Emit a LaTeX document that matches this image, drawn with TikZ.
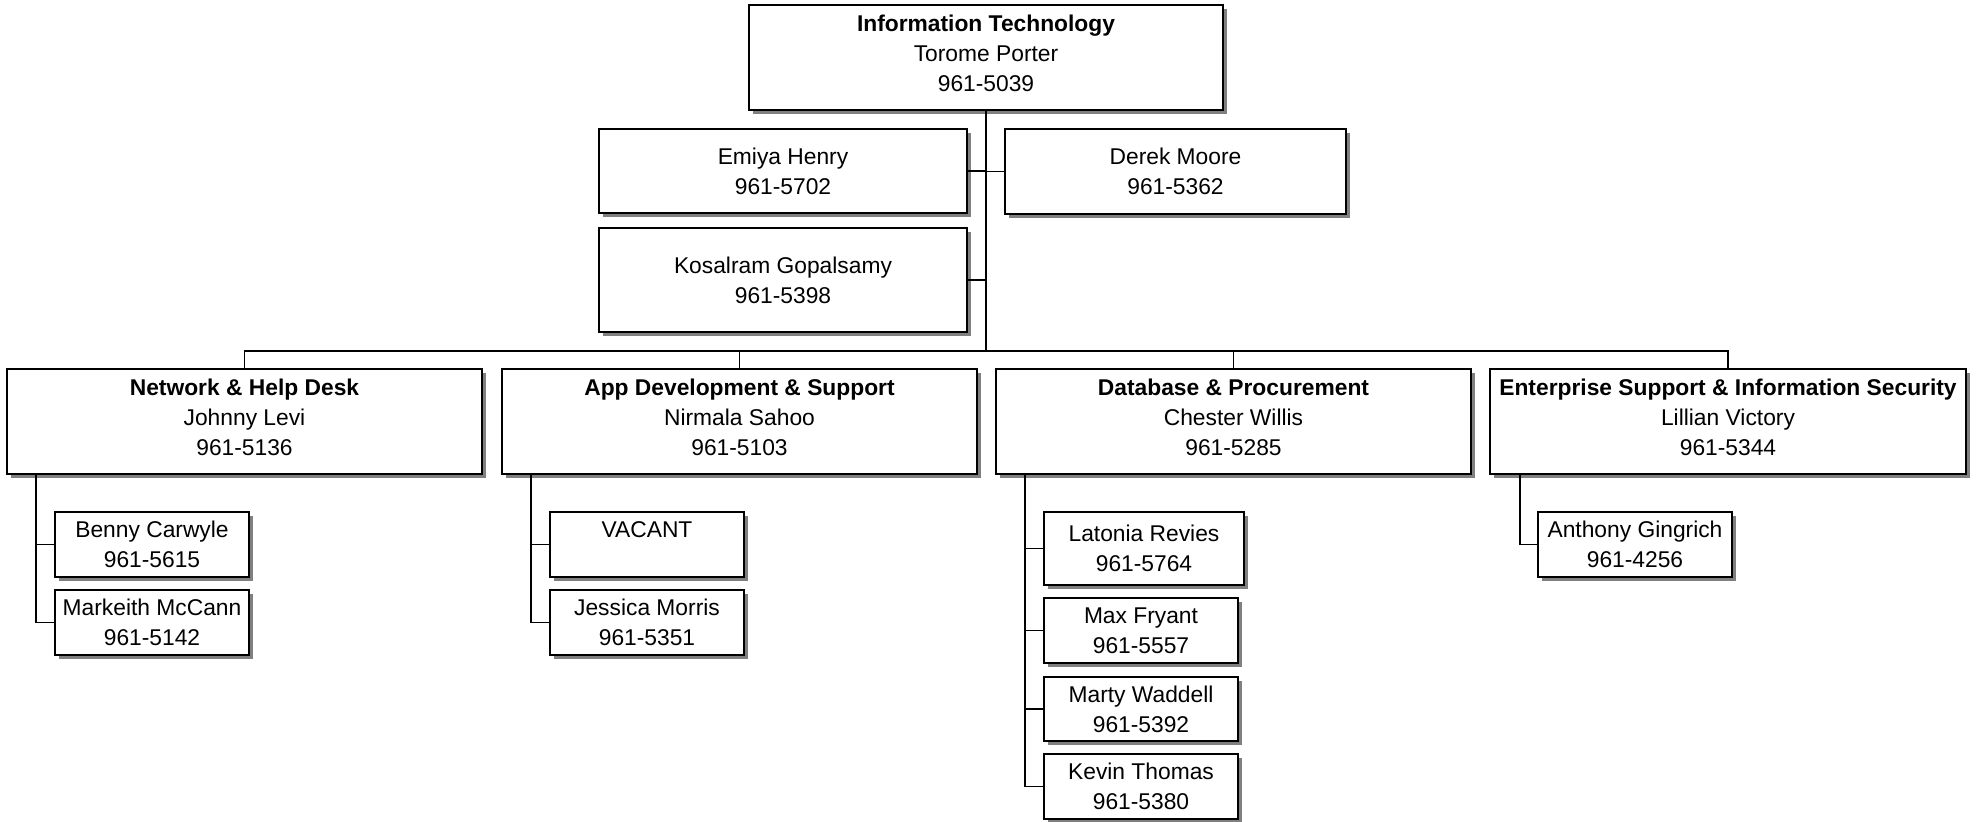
\documentclass[tikz,border=0pt]{standalone}
\usepackage{fontspec}
\setmainfont{Liberation Sans}
\usetikzlibrary{shadows}
\begin{document}
\begin{tikzpicture}[x=0.5pt,y=-0.5pt,
  box/.style={draw=black, line width=0.8pt, fill=white, inner sep=0pt, align=center, anchor=center,
    font=\fontsize{11.4pt}{15pt}\selectfont,
    drop shadow={shadow xshift=2pt, shadow yshift=-2pt, fill=shadowgray, opacity=1}},
  conn/.style={draw=black, line width=0.65pt}]
\definecolor{shadowgray}{HTML}{808080}
\newcommand{\lowpad}{\rule[-4.5pt]{0pt}{4.5pt}}
\newcommand{\orgbox}[6]{\node[box, minimum width={(#4-#2)*0.5pt}, minimum height={(#5-#3)*0.5pt}] (#1) at ({(#2+#4)/2},{(#3+#5)/2}) {#6};}
\useasboundingbox (0,0) rectangle (1982,822);

% top level
\orgbox{top}{749}{5}{1223}{110}{\textbf{Information Technology}\\Torome Porter\\961-5039\lowpad}
\orgbox{emiya}{599}{129}{967}{213}{Emiya Henry\\961-5702}
\orgbox{derek}{1005}{129}{1346}{214}{Derek Moore\\961-5362}
\orgbox{kosal}{599}{228}{967}{332}{Kosalram Gopalsamy\\961-5398}

% level 2
\orgbox{net}{7}{369}{482}{474}{\textbf{Network \& Help Desk}\\Johnny Levi\\961-5136\lowpad}
\orgbox{app}{502}{369}{977}{474}{\textbf{App Development \& Support}\\Nirmala Sahoo\\961-5103\lowpad}
\orgbox{db}{996}{369}{1471}{474}{\textbf{Database \& Procurement}\\Chester Willis\\961-5285\lowpad}
\orgbox{ent}{1490}{369}{1966}{474}{\textbf{Enterprise Support \& Information Security}\\Lillian Victory\\961-5344\lowpad}

% level 3
\orgbox{benny}{55}{512}{249}{577}{Benny Carwyle\\961-5615}
\orgbox{markeith}{55}{590}{249}{655}{Markeith McCann\\961-5142}
\orgbox{vacant}{550}{512}{744}{577}{VACANT\\\phantom{0}}
\orgbox{jessica}{550}{590}{744}{655}{Jessica Morris\\961-5351}
\orgbox{latonia}{1044}{512}{1244}{585}{Latonia Revies\\961-5764}
\orgbox{max}{1044}{598}{1238}{663}{Max Fryant\\961-5557}
\orgbox{marty}{1044}{677}{1238}{741}{Marty Waddell\\961-5392}
\orgbox{kevin}{1044}{754}{1238}{819}{Kevin Thomas\\961-5380}
\orgbox{anthony}{1538}{512}{1732}{577}{Anthony Gingrich\\961-4256}

% junction coordinates
\coordinate (bus) at (986,351);
\coordinate (nv) at (36,474);
\coordinate (av) at (531,474);
\coordinate (dv) at (1025,474);
\coordinate (ev) at (1520,474);

% connectors from top
\draw[conn] (top.south) -- (bus);
\draw[conn] (emiya.east) -- (emiya.east -| bus);
\draw[conn] (derek.west) -- (derek.west -| bus);
\draw[conn] (kosal.east) -- (kosal.east -| bus);
\draw[conn] (net.north) |- (bus) -| (ent.north);
\draw[conn] (app.north) -- (app.north |- bus);
\draw[conn] (db.north) -- (db.north |- bus);

% level 3 connectors
\draw[conn] (nv) |- (markeith.west);
\draw[conn] (benny.west) -- (benny.west -| nv);
\draw[conn] (av) |- (jessica.west);
\draw[conn] (vacant.west) -- (vacant.west -| av);
\draw[conn] (dv) |- (kevin.west);
\draw[conn] (latonia.west) -- (latonia.west -| dv);
\draw[conn] (max.west) -- (max.west -| dv);
\draw[conn] (marty.west) -- (marty.west -| dv);
\draw[conn] (ev) |- (anthony.west);
\end{tikzpicture}
\end{document}
